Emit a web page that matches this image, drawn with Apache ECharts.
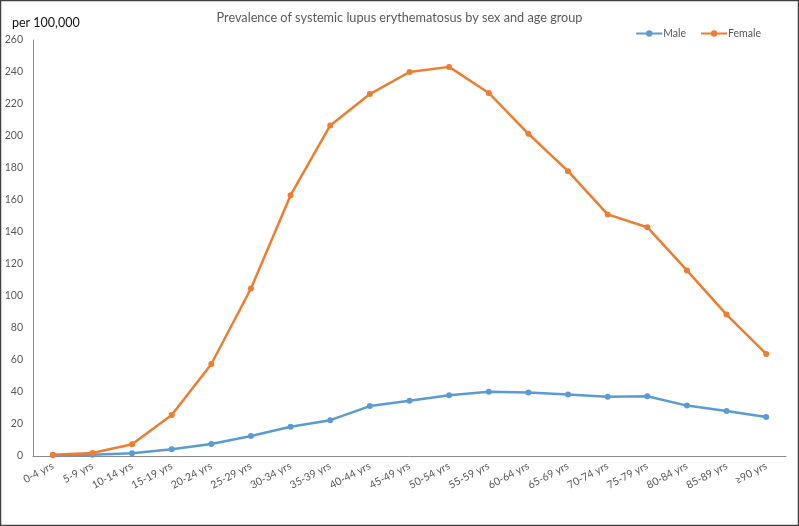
<!DOCTYPE html>
<html>
<head>
<meta charset="utf-8">
<script src="https://cdn.jsdelivr.net/npm/echarts@6/dist/echarts.min.js"></script>
<style>
html,body{margin:0;padding:0;background:#fff;}
#chart{width:799px;height:526px;}
</style>
</head>
<body>
<div id="chart"></div>
<script>
const categories = ["0-4 yrs","5-9 yrs","10-14 yrs","15-19 yrs","20-24 yrs","25-29 yrs","30-34 yrs","35-39 yrs","40-44 yrs","45-49 yrs","50-54 yrs","55-59 yrs","60-64 yrs","65-69 yrs","70-74 yrs","75-79 yrs","80-84 yrs","85-89 yrs","≥90 yrs"];
const maleValues = [0.5, 0.8, 1.7, 4.2, 7.5, 12.5, 18.3, 22.4, 31.2, 34.6, 37.9, 40.2, 39.7, 38.5, 37.0, 37.4, 31.5, 28.1, 24.4];
const femaleValues = [0.8, 1.9, 7.3, 25.6, 57.5, 104.7, 163.0, 206.6, 226.2, 240.0, 243.2, 226.9, 201.4, 178.0, 151.0, 143.0, 116.0, 88.4, 63.8];
const yTicks = {min: 0, max: 260, interval: 20};

const FONT = 'Lato, "Open Sans", sans-serif';
const chart = echarts.init(document.getElementById('chart'), null, {renderer: 'canvas'});
chart.setOption({
  backgroundColor: '#ffffff',
  animation: false,
  title: [
    {text: 'Prevalence of systemic lupus erythematosus by sex and age group', left: 'center', top: 6,
     textStyle: {fontFamily: FONT, fontSize: 12.7, fontWeight: 'normal', color: '#595959'}},
    {text: 'per 100,000', left: 7, top: 11,
     textStyle: {fontFamily: FONT, fontSize: 12.5, fontWeight: 'normal', color: '#111'}}
  ],
  legend: {
    right: 33, top: 23, itemWidth: 26, itemHeight: 8, itemGap: 14,
    textStyle: {fontFamily: FONT, fontSize: 10.5, color: '#595959', padding: [0,0,0,-4]},
    data: ['Male', 'Female']
  },
  graphic: [{type: 'rect', shape: {x: 0.5, y: 0.5, width: 798, height: 525},
    style: {fill: 'none', stroke: '#404040', lineWidth: 1.5}, silent: true}],
  grid: {left: 33, right: 13, top: 40, bottom: 70, containLabel: false},
  xAxis: {
    type: 'category', data: categories, boundaryGap: true,
    axisLine: {lineStyle: {color: '#898989', width: 1}},
    axisTick: {show: false},
    axisLabel: {rotate: 28, fontFamily: FONT, fontSize: 10.5, color: '#595959', margin: 9, interval: 0}
  },
  yAxis: {
    type: 'value', min: yTicks.min, max: yTicks.max, interval: yTicks.interval,
    axisLine: {show: true, lineStyle: {color: '#898989', width: 1}},
    axisTick: {show: false},
    splitLine: {show: false},
    axisLabel: {fontFamily: FONT, fontSize: 10.5, color: '#595959', margin: 10}
  },
  series: [
    {name: 'Male', type: 'line', data: maleValues, symbol: 'circle', symbolSize: 6,
     lineStyle: {color: '#5B9BD5', width: 2.5}, itemStyle: {color: '#5B9BD5'}},
    {name: 'Female', type: 'line', data: femaleValues, symbol: 'circle', symbolSize: 6,
     lineStyle: {color: '#ED7D31', width: 2.5}, itemStyle: {color: '#ED7D31'}}
  ]
});
</script>
</body>
</html>
